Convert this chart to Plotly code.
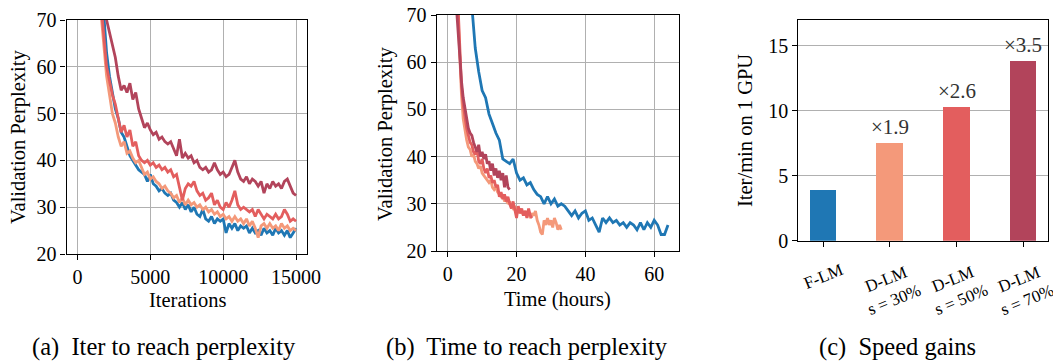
import plotly.graph_objects as go

# ---------------- data ----------------
# (a) validation perplexity vs iterations
iters = list(range(1600, 15001, 200))
ppl_iter_flm = [80, 72, 63, 58, 54, 51, 49, 46, 45, 43, 41, 40, 39, 38, 37.5, 37, 35.5, 37, 35, 34.5,
                33.5, 34, 33, 32.5, 33, 31.5, 31, 30, 31, 29.5, 30.5, 29, 30, 28.5, 28, 29.5, 27.5, 27, 28, 26.5,
                27.5, 27, 27.5, 24.5, 26.5, 25.5, 26.5, 25, 26, 25.5, 26, 24.5, 25.5, 24.5, 25, 24, 25.5, 24.5,
                25, 24, 25.5, 24.5, 25, 24, 25, 23.5, 24.5, 25.5]
ppl_iter_s30 = [72, 64, 58, 54, 50, 48, 45, 43, 44, 41.5, 42, 40.5, 39.5, 40, 38.5, 37, 37.5, 36, 36.5, 35.5,
                35, 34, 34.5, 33.5, 33, 32, 32.5, 31, 32, 30.5, 31.5, 30.5, 31, 30, 30.5, 29.5, 30, 29, 29.5, 28.5,
                29, 28, 28.5, 27.5, 28, 27, 28, 27, 27.5, 26.5, 27.5, 26, 27, 25.5, 23.5, 26, 26.5, 25.5,
                26.5, 25.5, 26, 25, 26.5, 25.5, 26, 25, 25.5, 25]
ppl_iter_s50 = [74, 66, 60, 57, 54, 52, 49, 46, 47.5, 45, 46.5, 43, 44, 41, 40, 39.5, 40, 39, 39.5, 38.5,
                39, 38, 38.5, 37.5, 38, 36.5, 37, 34.5, 31.5, 34, 35, 34.5, 35.5, 33.5, 32.5, 33, 31.5, 32, 33, 30.5,
                31.5, 30, 29.5, 31, 30, 31.5, 33.5, 30.5, 29.5, 30, 29.5, 29, 29.5, 28, 29.5, 28.5, 27.5, 28.5,
                28, 27.5, 28.5, 27.5, 28, 29.5, 28.5, 27, 27.5, 27]
ppl_iter_s70 = [78, 72, 70, 67.5, 65, 62, 58, 55, 56, 54.5, 56.5, 53, 54.5, 51, 49, 47, 48, 46.5, 45.5, 46,
                44.5, 45, 44, 43.5, 44, 42.5, 41, 44.5, 40.5, 41.5, 40.5, 41, 39.5, 40, 38.5, 38, 38.5, 37.5, 38, 39.5,
                38, 37, 37.5, 36.5, 37, 38.5, 40, 37.5, 36, 35.5, 36.5, 35, 36, 35.5, 34.5, 35.5, 33, 35,
                34, 35.5, 34.5, 35, 34, 35.5, 36, 34.5, 33, 32.5]

# (b) validation perplexity vs time (hours)
hours_flm = list(range(7, 65))
ppl_time_flm = [72, 63, 58, 54, 52.5, 49, 47, 45, 43.5, 39.5, 39, 38.5, 39.5, 36.5, 35, 35.5, 34, 34.5, 33, 32,
                31.5, 30, 31.5, 30, 31, 29.5, 30, 29.5, 28.5, 27.5, 28.5, 27, 28, 28.5, 26.5, 27, 25.5, 24, 27, 26,
                27, 26, 26.5, 25.5, 26, 25, 26, 25.5, 24.5, 26, 24.5, 26, 25, 26.5, 25.5, 23.5, 23.5, 25.5]
hours_s30 = [3 + 0.5 * i for i in range(61)]
ppl_time_s30 = [70, 61, 53, 48, 45.5, 43.5, 42, 41.5, 40, 40.5, 39, 38.5, 37.5, 38, 36.5, 36, 35.5, 35, 34.5, 35,
                33.5, 33, 33.5, 32.5, 32, 31.5, 32, 30.5, 31, 30, 30.5, 29.5, 29, 29.5, 28.5, 29, 28, 28.5, 27.5, 28.5,
                27.5, 28, 27, 28, 27.5, 28.5, 26.5, 25.5, 24, 23.5, 26.5, 25.5, 27, 25.5, 26.5, 25, 27, 26, 24.5, 25.5,
                24.5]
hours_s50 = [3 + 0.5 * i for i in range(44)]
ppl_time_s50 = [72, 62, 55, 51, 48, 46, 44.5, 43, 42.5, 41, 40.5, 41.5, 39, 38.5, 39.5, 37.5, 36.5, 37.5, 35.5, 36,
                34.5, 35, 33.5, 34, 31.5, 32.5, 31, 32, 30.5, 31.5, 30, 29, 30.5, 28.5, 27, 29.5, 28, 29, 27.5, 28.5,
                27, 29, 27.5, 27]
hours_s70 = [2.5 + 0.5 * i for i in range(32)]
ppl_time_s70 = [72, 66, 60, 56, 52.5, 50, 48.5, 46, 45, 44.5, 43, 42, 41, 42.5, 40, 41, 39.5, 40.5, 38.5, 39,
                37, 38.5, 36, 37.5, 35.5, 37, 35, 36.5, 33.5, 36, 33.5, 33]

# (c) speed gains
models = ["F-LM", "D-LM<br>s = 30%", "D-LM<br>s = 50%", "D-LM<br>s = 70%"]
iter_per_min = [3.9, 7.5, 10.3, 13.85]
gain_labels = ["", "×1.9", "×2.6", "×3.5"]

iter_ticks = [0, 5000, 10000, 15000]
hour_ticks = [0, 20, 40, 60]
ppl_ticks = [20, 30, 40, 50, 60, 70]
speed_ticks = [0, 5, 10, 15]

captions = ["(a)\u00a0 Iter to reach perplexity", "(b)\u00a0 Time to reach perplexity", "(c)\u00a0 Speed gains"]

# ---------------- style ----------------
# the page body has an 8px margin: the figure is drawn 8px smaller and every
# target pixel position (measured in the full window) is shifted by that offset
OFF = 8
W, H = 1061 - OFF, 361 - OFF
COLORS = ["#1f77b4", "#f4997a", "#e35e5e", "#b2445b"]
FONT = "Liberation Serif"
GRID = "#b0b0b0"
TICK = 20
TITLE = 20.5


def px(x):
    return (x - OFF) / W


def py(y):
    return 1 - (y - OFF) / H


fig = go.Figure()

series_a = [ppl_iter_flm, ppl_iter_s30, ppl_iter_s50, ppl_iter_s70]
for vals, col in zip(series_a, COLORS):
    fig.add_trace(go.Scatter(x=iters, y=vals, mode="lines", line=dict(color=col, width=2.8),
                             xaxis="x", yaxis="y", showlegend=False))

series_b = [(hours_flm, ppl_time_flm), (hours_s30, ppl_time_s30),
            (hours_s50, ppl_time_s50), (hours_s70, ppl_time_s70)]
for (t, vals), col in zip(series_b, COLORS):
    fig.add_trace(go.Scatter(x=t, y=vals, mode="lines", line=dict(color=col, width=2.8),
                             xaxis="x2", yaxis="y2", showlegend=False))

fig.add_trace(go.Bar(x=list(range(len(models))), y=iter_per_min, marker=dict(color=COLORS, line=dict(width=0)),
                     width=0.4, xaxis="x3", yaxis="y3", showlegend=False))

axis_common = dict(showline=True, linecolor="black", linewidth=1.2, mirror=True, ticks="outside",
                   ticklen=5, tickcolor="black", tickwidth=1.2, zeroline=False, automargin=False,
                   ticklabeloverflow="allow",
                   tickfont=dict(family=FONT, size=TICK, color="black"))

fig.update_layout(
    width=W, height=H, margin=dict(l=0, r=0, t=0, b=0),
    paper_bgcolor="white", plot_bgcolor="white",
    font=dict(family=FONT, color="black"),
    xaxis=dict(domain=[px(66.5), px(307)], range=[-750, 15750], tickvals=iter_ticks,
               ticktext=[str(v) for v in iter_ticks],
               showgrid=True, gridcolor=GRID, gridwidth=1, anchor="y", **axis_common),
    yaxis=dict(domain=[py(254), py(20)], range=[20, 70], tickvals=ppl_ticks,
               ticktext=[str(v) for v in ppl_ticks],
               showgrid=True, gridcolor=GRID, gridwidth=1, anchor="x", **axis_common),
    xaxis2=dict(domain=[px(436.7), px(679)], range=[-3.2, 67.2], tickvals=hour_ticks,
                ticktext=[str(v) for v in hour_ticks],
                showgrid=True, gridcolor=GRID, gridwidth=1, anchor="y2", **axis_common),
    yaxis2=dict(domain=[py(251), py(15)], range=[20, 70], tickvals=ppl_ticks,
                ticktext=[str(v) for v in ppl_ticks],
                showgrid=True, gridcolor=GRID, gridwidth=1, anchor="x2", **axis_common),
    xaxis3=dict(domain=[px(798.3), px(1048.3)], range=[-0.375, 3.375], tickvals=[0, 1, 2, 3],
                showticklabels=False, showgrid=False, anchor="y3", **axis_common),
    yaxis3=dict(domain=[py(240.7), py(20)], range=[0, 17], tickvals=speed_ticks,
                ticktext=[str(v) for v in speed_ticks],
                showgrid=True, gridcolor=GRID, gridwidth=1, anchor="x3", **axis_common),
    bargap=0,
)

ann = []


def label(text, x, y, angle=0, size=TITLE):
    ann.append(dict(text=text, x=px(x), y=py(y), xref="paper", yref="paper", xanchor="center",
                    yanchor="middle", textangle=angle, showarrow=False, font=dict(family=FONT, size=size)))


# axis titles
label("Validation Perplexity", 18, 137, -90)
label("Iterations", 187, 300)
label("Validation Perplexity", 386, 134, -90)
label("Time (hours)", 557, 299)
label("Iter/min on 1 GPU", 745, 131, -90)

# bar gain labels
for i, (v, lab) in enumerate(zip(iter_per_min, gain_labels)):
    if lab:
        ann.append(dict(text=lab, x=i, y=v, xref="x3", yref="y3", xanchor="center", yanchor="bottom",
                        yshift=2, showarrow=False, font=dict(family=FONT, size=21, color="#333333")))

# rotated category labels
for i, m in enumerate(models):
    ann.append(dict(text=m, x=i, y=py(257), xref="x3", yref="paper", xanchor="center", yanchor="top",
                    textangle=-22, align="center", showarrow=False,
                    font=dict(family=FONT, size=17)))

# captions
for c, xc in zip(captions, [164, 527, 897]):
    label(c, xc, 347, 0, 24.5)

fig.update_layout(annotations=ann)
fig.write_html("out.html")
